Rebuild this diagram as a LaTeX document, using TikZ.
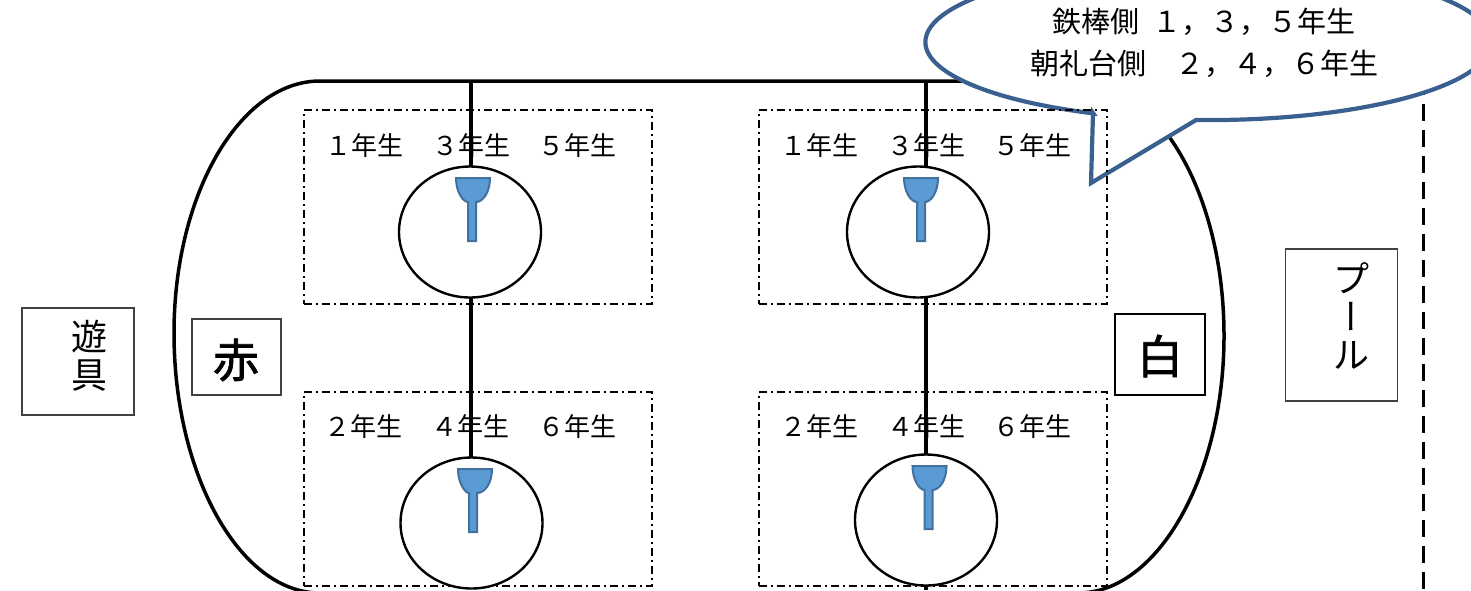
\documentclass[tikz,border=0pt]{standalone}
\usepackage{fontspec}
\setmainfont{Noto Sans CJK JP}
\newfontfamily\vertfont[RawFeature=+vert]{Noto Sans CJK JP}
\newfontfamily\heavyfont[FakeBold=1.5]{Noto Sans CJK JP}
\usetikzlibrary{shapes.geometric}
\definecolor{cupfill}{HTML}{5B9BD5}
\definecolor{cupline}{HTML}{41719C}
\definecolor{bubbleline}{HTML}{3A6090}
\begin{document}
\begin{tikzpicture}[x=1pt,y=-1pt]

\tikzstyle{track}    = [draw, black, line width=3.5pt]
\tikzstyle{pole}     = [draw, black, line width=3.2pt]
\tikzstyle{fence}    = [draw, black, line width=3pt, dash pattern=on 17pt off 9pt]
\tikzstyle{bubble}   = [draw=bubbleline, fill=white, line width=4.2pt, line join=miter]
\tikzstyle{ring}     = [draw, ellipse, black, fill=white, line width=2.4pt, inner sep=0pt, outer sep=0pt, minimum width=142pt, minimum height=131pt]
\tikzstyle{yearbox}  = [draw, black, line width=1.5pt, dash pattern=on 8pt off 4pt on 2pt off 4pt, minimum width=348pt, minimum height=194pt, inner sep=0pt]
\tikzstyle{signbox}  = [draw, black!75, line width=1.3pt, inner sep=0pt]
\tikzstyle{cup}      = [draw=cupline, fill=cupfill, line width=2pt]
\tikzstyle{lbl}      = [black, inner sep=0pt, font=\fontsize{26pt}{26pt}\selectfont]
\tikzstyle{bigch}    = [black, inner sep=0pt, font=\fontsize{46pt}{46pt}\heavyfont]
\tikzstyle{sidech}   = [black, inner sep=0pt, align=center, font=\fontsize{36pt}{38pt}\selectfont]

\path [use as bounding box, clip] (0,0) rectangle (1471,590);
\fill [white] (0,0) rectangle (1471,590);

\draw [track] (320,593) .. controls (240,593) and (174,475) .. (174,333)
  .. controls (174,194) and (240,81) .. (320,81) -- (1078,81)
  .. controls (1158,81) and (1224,194) .. (1224,336)
  .. controls (1224,475) and (1158,593) .. (1078,593);
\draw [fence] (1423,0) -- (1423,590);

\draw [bubble] (1093,113) -- (1091,183) -- (1196,120)
  arc [start angle=92.5, end angle=-246, x radius=283, y radius=78] -- cycle;

\node [yearbox] (boxTL) at (478,207) {};
\node [yearbox] (boxBL) at (478,489) {};
\node [yearbox] (boxTR) at (933,207) {};
\node [yearbox] (boxBR) at (933,489) {};

\node [ring] (ringTL) at (470,232) {};
\node [ring] (ringBL) at (471.5,523) {};
\node [ring] (ringTR) at (918,232) {};
\node [ring] (ringBR) at (926,520) {};

\coordinate (railL) at (471,81);
\coordinate (railR) at (926,81);
\coordinate (railEnd) at (926,590);
\draw [pole] (railL) -- (railL |- ringTL.north);
\draw [pole] (railL |- ringTL.south) -- (railL |- ringBL.north);
\draw [pole] (railR) -- (railR |- ringTR.north);
\draw [pole] (railR |- ringTR.south) -- (railR |- ringBR.north);
\draw [pole] (railR |- ringBR.south) -- (railEnd);

\foreach \cx/\cy/\sx in {473/178/-1, 921/178/0, 475/469/-2, 929.5/466/-1}
  \draw [cup, shift={(\cx,\cy)}] (-17,0) -- (17,0) .. controls (17,14) and (10,24) .. (4+\sx,24)
    -- (4+\sx,63) -- (-4+\sx,63) -- (-4+\sx,24) .. controls (-10,24) and (-17,14) .. (-17,0) -- cycle;

\node [lbl] (y1L) at (364,146) {１年生};
\node [lbl] (y3L) at (471,146) {３年生};
\node [lbl] (y5L) at (577,146) {５年生};
\node [lbl] (y2L) at (363,427) {２年生};
\node [lbl] (y4L) at (470,427) {４年生};
\node [lbl] (y6L) at (577,427) {６年生};
\node [lbl] (y1R) at (819,146) {１年生};
\node [lbl] (y3R) at (926,146) {３年生};
\node [lbl] (y5R) at (1032,146) {５年生};
\node [lbl] (y2R) at (819,427) {２年生};
\node [lbl] (y4R) at (926,427) {４年生};
\node [lbl] (y6R) at (1032,427) {６年生};

\node [black, inner sep=0pt, align=center, font=\fontsize{29pt}{42pt}\selectfont] (bubbleText) at (1204,43)
  {鉄棒側\hspace{14pt}１，３，５年生\\朝礼台側　２，４，６年生};

\node [signbox, minimum width=112pt, minimum height=107pt] (toysBox) at (78,361.5) {};
\node [sidech] (toysText) at (89,356) {遊\\具};
\node [signbox, minimum width=89pt, minimum height=76pt] (redBox) at (236.5,357) {};
\node [bigch] (redText) at (236,360) {赤};
\node [signbox, black, line width=1.6pt, minimum width=90pt, minimum height=81pt] (whiteBox) at (1160,354.5) {};
\node [bigch] (whiteText) at (1160,356) {白};
\node [signbox, minimum width=112pt, minimum height=152pt] (poolBox) at (1341.5,325) {};
\node [sidech] (poolText) at (1351,316) {プ\\{\vertfont ー}\\ル};
\end{tikzpicture}
\end{document}
